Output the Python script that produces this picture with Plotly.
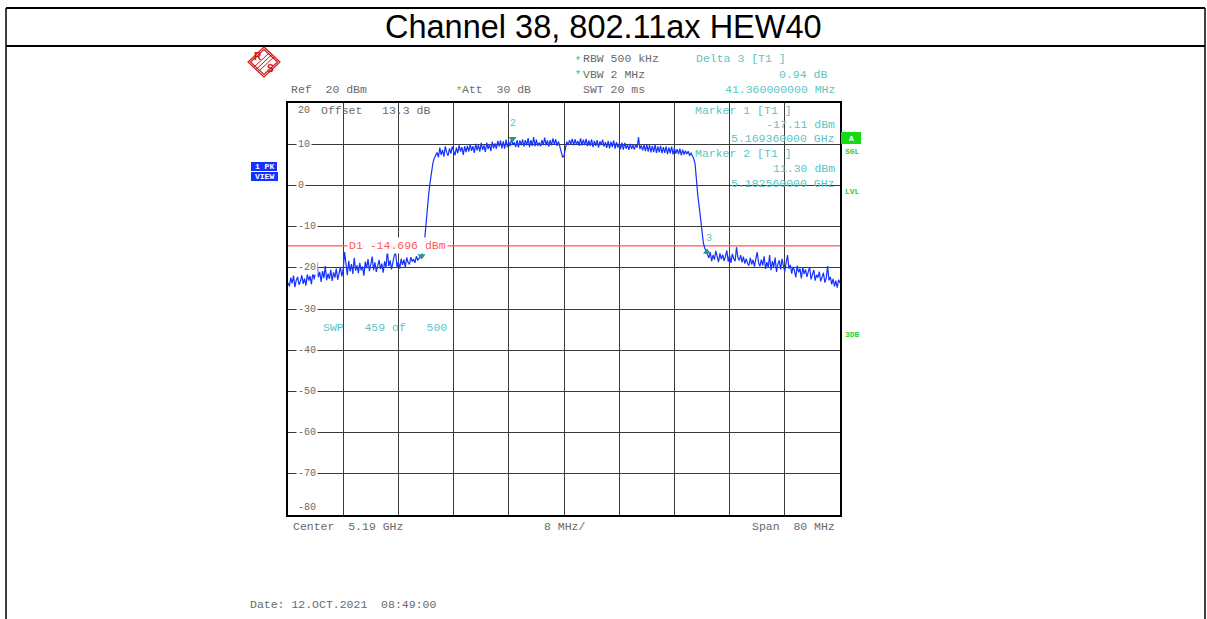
import plotly.graph_objects as go

W, H = 1207, 619

# ---- measurement data -------------------------------------------------------
f_start_ghz = 5.150
f_step_ghz = 0.0002          # 401 sweep points over the 80 MHz span
level_dbm = [
    # lower out-of-band noise
    -23.6, -24.5, -22.4, -23.8, -21.9, -24.7, -23.0, -22.2, -24.1, -23.3,
    -21.8, -23.9, -22.6, -24.3, -21.5, -23.1, -22.0, -24.0, -21.2, -22.8,
    -20.6, -18.6, -22.3, -21.0, -23.4, -20.8, -22.5, -19.6, -23.0, -21.4,
    -22.7, -20.5, -23.2, -21.1, -22.4, -20.2, -22.9, -21.6, -19.8, -22.1,
    -20.4, -16.2, -19.5, -21.8, -18.3, -20.9, -19.1, -21.5, -17.6, -20.7,
    -19.4, -21.3, -18.8, -20.6, -19.7, -21.9, -18.5, -20.1, -17.9, -20.8,
    -19.2, -17.3, -20.6, -18.7, -21.0, -19.5, -18.1, -20.3, -19.0, -21.2,
    -18.4, -20.0, -15.8, -19.6, -18.2, -20.4, -18.9, -17.0, -16.4, -19.8,
    -18.6, -20.2, -17.8, -19.3, -18.0, -19.9, -17.5, -18.7, -19.2, -17.4,
    -18.5, -17.9, -18.8, -17.2, -18.1, -17.6,
    # rising edge
    -17.3, -16.9, -15.0, -13.2, -9.5, -5.0, -2.0, 0.8, 3.5, 5.4, 6.6, 7.3,
    # occupied channel
    8.0, 6.8, 9.2, 7.4, 8.6, 7.0, 9.5, 8.0, 7.2, 9.0, 7.7, 9.4,
    8.1, 7.3, 9.2, 7.8, 9.7, 8.2, 9.3, 7.4, 9.5, 8.1,
    9.6, 8.2, 10.0, 8.4, 9.5, 7.9, 10.1, 8.5, 9.8, 8.2,
    10.3, 8.6, 9.7, 8.1, 10.4, 8.8, 10.0, 8.3, 10.6, 9.0,
    10.2, 8.9, 10.8, 9.4, 10.9, 9.0, 10.7, 8.9, 11.1, 9.3,
    10.6, 9.5, 11.3, 9.8, 10.5, 9.3, 11.0, 9.2, 10.9, 9.7,
    11.2, 9.4, 11.0, 9.7, 11.5, 9.3, 11.0, 9.6, 11.7, 9.5,
    11.1, 9.6, 10.4, 9.5, 11.0, 9.8, 11.6, 9.7, 10.9, 9.4,
    11.0, 9.7, 11.4, 9.9, 11.2, 9.6, 10.7, 9.2, 7.6, 6.8,
    7.2, 8.9, 10.6, 9.8, 11.0, 10.0, 11.3, 9.7, 11.2, 9.9,
    10.8, 9.6, 11.4, 9.7, 11.1, 9.8, 11.3, 9.5, 10.9, 9.6,
    11.2, 9.3, 10.8, 9.6, 11.0, 9.2, 10.7, 9.8, 11.1, 9.4,
    10.5, 9.1, 10.8, 9.0, 10.6, 9.3, 10.9, 8.9, 10.5, 9.2,
    10.2, 8.8, 10.4, 8.7, 10.3, 8.9, 9.9, 8.6, 10.1, 8.8,
    9.8, 8.7, 10.0, 9.1, 11.7, 8.8, 9.7, 8.5, 9.9, 8.3,
    9.9, 8.2, 9.8, 8.0, 9.6, 8.1, 9.9, 7.9, 9.5, 8.0,
    9.6, 7.8, 9.3, 7.9, 9.5, 7.6, 9.2, 7.8, 9.4, 7.5,
    9.1, 7.7, 8.8, 7.6, 8.9, 7.3, 8.7, 7.5, 8.4, 7.6,
    8.3, 7.2, 7.9,
    # falling edge
    7.2, 6.5, 5.2, 0.8, -2.6, -5.2, -8.5, -11.8, -14.0, -15.2, -16.0, -16.4,
    # upper out-of-band noise
    -17.6, -16.2, -18.4, -16.9, -18.0, -15.9, -17.7, -18.6, -16.5, -17.9,
    -16.8, -18.3, -17.2, -15.8, -18.5, -17.0, -18.8, -16.6, -17.8, -18.4,
    -15.0, -17.5, -18.2, -16.9, -18.7, -17.3, -19.0, -17.8, -18.9, -19.5,
    -17.6, -19.2, -18.1, -19.7, -17.9, -16.2, -18.8, -19.6, -18.0, -19.4,
    -17.2, -20.3, -18.6, -19.9, -16.9, -20.6, -18.4, -19.8, -17.5, -21.0,
    -19.1, -18.2, -20.4, -17.8, -19.6, -20.9, -18.7, -16.9, -20.2, -19.3,
    -21.4, -19.8, -20.7, -22.3, -19.5, -21.1, -20.2, -22.6, -19.9, -21.5,
    -20.4, -22.2, -21.0, -19.8, -22.8, -21.3, -20.5, -23.1, -21.7, -22.4,
    -20.9, -23.3, -22.0, -21.2, -23.6, -22.5, -19.6, -23.0, -22.2, -24.0,
    -22.7, -24.5, -23.1, -24.8, -22.9, -23.7,
]
freq_ghz = [f_start_ghz + i * f_step_ghz for i in range(len(level_dbm))]

# markers (marker 3 is a delta marker referenced to marker 1)
m1_freq_ghz, m1_level_dbm = 5.169360, -17.11
m2_freq_ghz, m2_level_dbm = 5.182560, 11.30
delta3_mhz, delta3_db = 41.36, 0.94
m3_freq_ghz = m1_freq_ghz + delta3_mhz / 1000.0
m3_level_dbm = m1_level_dbm + delta3_db

display_line_dbm = -14.696

# instrument settings
center_ghz = 5.19
span_mhz = 80
ref_level_dbm = 20
range_db = 100
div_mhz = span_mhz / 10
y_tick_labels = [10, 0, -10, -20, -30, -40, -50, -60, -70]

# ---- colours / fonts ---------------------------------------------------------
GREY = "#6a6a6a"
CYAN = "#5cc4c4"
GREEN = "#22d422"
RED = "#ff5a5a"
BLUE = "#1432ff"
MONO = "Liberation Mono, Courier New, monospace"


def px(x):
    return x / W


def py(y):
    return 1 - y / H


x0_pix, x1_pix = 288, 840
y0_pix, y1_pix = 103, 515

f_lo = center_ghz - span_mhz / 2000.0
f_hi = center_ghz + span_mhz / 2000.0

fig = go.Figure()

fig.add_trace(go.Scatter(
    x=freq_ghz, y=level_dbm, mode="lines",
    line=dict(color=BLUE, width=1.2), hoverinfo="skip", showlegend=False,
))

fig.add_trace(go.Scatter(
    x=[m1_freq_ghz, m2_freq_ghz, m3_freq_ghz],
    y=[m1_level_dbm, m2_level_dbm, m3_level_dbm],
    mode="markers",
    marker=dict(symbol=["triangle-down", "triangle-down", "triangle-up"],
                size=7, color="#1c9a90"),
    hoverinfo="skip", showlegend=False,
))

annotations = []
shapes = []


def text(s, x, y, color=GREY, size=11.5, anchor="left", family=MONO,
         bg=None, bold=False, pad=0):
    if bold:
        s = "<b>" + s + "</b>"
    a = dict(text=s, x=px(x), y=py(y), xref="paper", yref="paper",
             xanchor=anchor, yanchor="middle", showarrow=False,
             font=dict(family=family, size=size, color=color), borderpad=pad)
    if bg:
        a["bgcolor"] = bg
    annotations.append(a)


# title row of the table
text("Channel 38, 802.11ax HEW40", 603, 27, color="black", size=32.5,
     anchor="center", family="Liberation Sans, Arial, sans-serif")
shapes += [
    dict(type="line", xref="paper", yref="paper", x0=px(6), x1=px(1205),
         y0=py(8), y1=py(8), line=dict(color="black", width=2)),
    dict(type="line", xref="paper", yref="paper", x0=px(6), x1=px(1205),
         y0=py(46), y1=py(46), line=dict(color="black", width=2)),
    dict(type="line", xref="paper", yref="paper", x0=px(6), x1=px(6),
         y0=py(8), y1=py(619), line=dict(color="black", width=1.5)),
    dict(type="line", xref="paper", yref="paper", x0=px(1205), x1=px(1205),
         y0=py(8), y1=py(619), line=dict(color="black", width=1.5)),
]

# logo
cx, cy, hw, hh = 264, 62, 16, 15
for d in (0, 2.5):
    path = "M {} {} L {} {} L {} {} L {} {} Z".format(
        px(cx), py(cy - hh + d), px(cx + hw - d), py(cy),
        px(cx), py(cy + hh - d), px(cx - hw + d), py(cy))
    shapes.append(dict(type="path", xref="paper", yref="paper", path=path,
                       line=dict(color="#d01818", width=1.2)))
for off in (-2.2, 0, 2.2):
    shapes.append(dict(type="line", xref="paper", yref="paper",
                       x0=px(cx - 8 + off), y0=py(cy + 7.5 + off),
                       x1=px(cx + 8 + off), y1=py(cy - 7.5 + off),
                       line=dict(color="#d01818", width=1)))
text("R", cx - 6, cy - 6, color="#d01818", size=10, anchor="center",
     family="Liberation Sans, Arial", bold=True)
text("S", cx + 6, cy + 6, color="#d01818", size=10, anchor="center",
     family="Liberation Sans, Arial", bold=True)

# header lines
text("Ref  {} dBm".format(ref_level_dbm), 290, 89)
text("*", 455, 91, color=GREEN, size=10)
text("Att  30 dB", 461, 89)
text("*", 574, 61, color=GREEN, size=10)
text("RBW 500 kHz", 582, 59)
text("*", 574, 76, color=GREEN, size=10)
text("VBW 2 MHz", 582, 74)
text("SWT 20 ms", 582, 89)
text("Delta 3 [T1 ]", 695, 59, color=CYAN)
text("{:.2f} dB".format(delta3_db), 828, 74, color=CYAN, anchor="right")
text("{:.9f} MHz".format(delta3_mhz), 836, 89, color=CYAN, anchor="right")

# marker readouts inside the grid
text("Marker 1 [T1 ]", 694, 110, color=CYAN)
text("{:.2f} dBm".format(m1_level_dbm), 836, 124, color=CYAN, anchor="right")
text("{:.9f} GHz".format(m1_freq_ghz), 836, 138, color=CYAN, anchor="right")
text("Marker 2 [T1 ]", 694, 153, color=CYAN)
text("{:.2f} dBm".format(m2_level_dbm), 836, 168, color=CYAN, anchor="right")
text("{:.9f} GHz".format(m2_freq_ghz), 836, 183, color=CYAN, anchor="right")

text(str(ref_level_dbm), 297, 111, size=10)
text("Offset", 320, 110)
text("13.3 dB", 381, 110)
text("SWP   459 of   500", 322, 327, color=CYAN)

# y-axis level labels sitting on the grid lines
for v in y_tick_labels:
    ypix = y0_pix + (ref_level_dbm - v) * (y1_pix - y0_pix) / range_db
    text(str(v), 296, ypix, size=10, bg="white", pad=1)
text(str(ref_level_dbm - range_db), 297, 507, size=10)

# display line
shapes.append(dict(type="line", xref="x", yref="y", x0=f_lo, x1=f_hi,
                   y0=display_line_dbm, y1=display_line_dbm,
                   line=dict(color=RED, width=1.3), layer="between"))
annotations.append(dict(
    text="D1 {:.3f} dBm".format(display_line_dbm), x=px(347), y=display_line_dbm,
    xref="paper", yref="y", xanchor="left", yanchor="middle", showarrow=False,
    font=dict(family=MONO, size=11.5, color=RED), bgcolor="white", borderpad=1))

# marker number tags
annotations.append(dict(text="2", x=m2_freq_ghz, y=m2_level_dbm, xref="x",
                        yref="y", showarrow=False, yshift=15,
                        font=dict(family=MONO, size=10, color=CYAN)))
annotations.append(dict(text="3", x=m3_freq_ghz, y=m3_level_dbm, xref="x",
                        yref="y", showarrow=False, yshift=14, xshift=2,
                        font=dict(family=MONO, size=10, color=CYAN)))

# side status boxes
for (label, x0b, y0b, x1b, y1b, col) in [
        ("1 PK", 251, 162, 277, 171, BLUE),
        ("VIEW", 251, 172, 278, 181, BLUE),
        ("A", 841, 132, 861, 144, "#12dd12")]:
    shapes.append(dict(type="rect", xref="paper", yref="paper",
                       x0=px(x0b), x1=px(x1b), y0=py(y1b), y1=py(y0b),
                       fillcolor=col, line=dict(width=0)))
    text(label, (x0b + x1b) / 2, (y0b + y1b) / 2, color="white", size=8,
         anchor="center", bold=True)
for label, ypix in [("SGL", 152), ("LVL", 191), ("3DB", 334)]:
    text(label, 852, ypix, color=GREEN, size=8, anchor="center", bold=True)

# footer
text("Center  {} GHz".format(center_ghz), 292, 526)
text("{:g} MHz/".format(div_mhz), 543, 526)
text("Span  {} MHz".format(span_mhz), 836, 526, anchor="right")
text("Date: 12.OCT.2021  08:49:00", 249, 604, size=11.5)

axis_common = dict(showticklabels=False, ticks="", zeroline=False,
                   showline=True, linecolor="black", linewidth=2, mirror=True,
                   showgrid=True, gridcolor="#3a3a3a", gridwidth=1.2,
                   fixedrange=True)

fig.update_layout(
    width=W, height=H, autosize=False,
    margin=dict(l=0, r=0, t=0, b=0),
    paper_bgcolor="white", plot_bgcolor="white",
    xaxis=dict(domain=[px(x0_pix), px(x1_pix)], range=[f_lo, f_hi],
               tick0=f_lo, dtick=div_mhz / 1000.0, **axis_common),
    yaxis=dict(domain=[py(y1_pix), py(y0_pix)],
               range=[ref_level_dbm - range_db, ref_level_dbm],
               tick0=0, dtick=10, **axis_common),
    shapes=shapes, annotations=annotations,
)

fig.write_html("out.html")
